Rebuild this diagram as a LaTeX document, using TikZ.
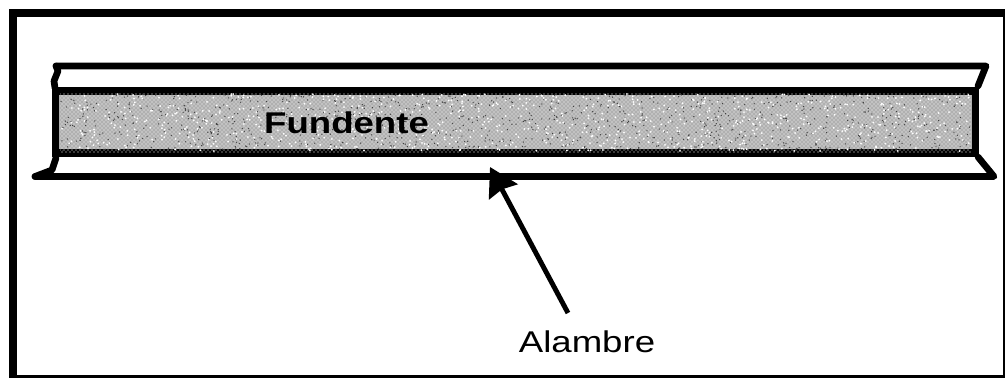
\documentclass[tikz,border=0pt]{standalone}
\usepackage{fontspec}
\setmainfont{Liberation Sans}
\usetikzlibrary{arrows.meta,patterns,positioning}

\begin{document}
\begin{tikzpicture}[x=0.75pt,y=-0.75pt,
    heavy/.style={line width=5.3pt},
    flange/.style={line width=5pt,line join=round,line cap=round},
    wire/.style={line width=3.7pt,-{Stealth[length=21pt,width=24pt,inset=2pt]}},
    label text/.style={xscale=1.22,inner sep=0pt,font=\fontsize{22.5}{24}\selectfont}]
    \useasboundingbox (0,0) rectangle (1006,378);
    \fill[white] (0,0) rectangle (1006,378);
    % frame
    \fill[black] (9,9) rectangle (1005,378);
    \fill[white] (16.5,17) rectangle (1003,375);

    % flux
    \node[draw,heavy,fill=gray!62,minimum width=920*0.75pt,minimum height=62*0.75pt,inner sep=0pt] at (515.5,122) (web) {};
    \fill[pattern=crosshatch dots,pattern color=white] (60,93) rectangle (971,152);
    \pgfmathsetseed{7}
    \foreach \i in {1,...,1100}
        \fill[black!75] ({61+rnd*909},{94+rnd*57}) circle (0.7);
    \foreach \i in {1,...,900}
        \fill[white] ({61+rnd*909},{94+rnd*57}) circle (1);

    % rims
    \draw[flange] (56,66) -- (986,66) -- (978,86);
    \draw[flange] (56,66) -- (58,71) -- (54,81) -- (55,88);
    \draw[flange] (35,176.5) -- (994,176.5) -- (978,157);
    \draw[flange] (35,176.5) -- (52,170) -- (56,158);

    \node[label text,font=\fontsize{22.5}{24}\selectfont\bfseries] at (346.5,123) (fundente) {Fundente};
    \node[label text] at (587,342) (alambre) {Alambre};

    \coordinate (tail) at (568,313);
    \coordinate (tip) at (490,167);
    \draw[wire] (tail) -- (tip);
\end{tikzpicture}
\end{document}
